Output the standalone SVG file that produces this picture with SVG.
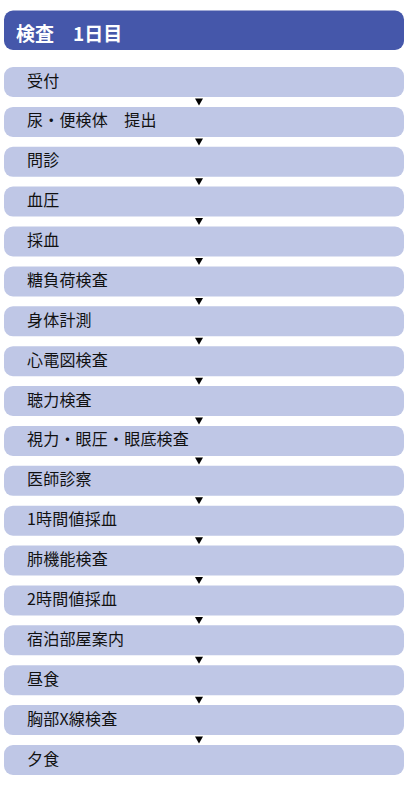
<svg xmlns="http://www.w3.org/2000/svg" width="410" height="785" viewBox="0 0 410 785">
<style>
.hdr{fill:#4557AA}
.box{fill:#BFC7E6}
.ht{font-family:"Noto Sans CJK JP","Noto Sans",sans-serif;font-size:19px;font-weight:bold;fill:#fff}
.t{font-family:"Noto Sans CJK JP","Noto Sans",sans-serif;font-size:16px;letter-spacing:0.2px;fill:#111}
.arr{fill:#000}
</style>
<rect width="410" height="785" fill="#fff"/>
<g id="header"><rect class="hdr" x="4" y="10.5" width="400" height="39.5" rx="9"/><text class="ht" x="16" y="40.5">検査　1日目</text></g>
<g id="n1"><rect class="box" x="4" y="67" width="400" height="30" rx="9"/><text class="t" x="27" y="86.5">受付</text></g>
<g id="n2"><rect class="box" x="4" y="106.9" width="400" height="30" rx="9"/><text class="t" x="27" y="126.4">尿・便検体　提出</text></g>
<g id="n3"><rect class="box" x="4" y="146.8" width="400" height="30" rx="9"/><text class="t" x="27" y="166.3">問診</text></g>
<g id="n4"><rect class="box" x="4" y="186.6" width="400" height="30" rx="9"/><text class="t" x="27" y="206.1">血圧</text></g>
<g id="n5"><rect class="box" x="4" y="226.5" width="400" height="30" rx="9"/><text class="t" x="27" y="246">採血</text></g>
<g id="n6"><rect class="box" x="4" y="266.4" width="400" height="30" rx="9"/><text class="t" x="27" y="285.9">糖負荷検査</text></g>
<g id="n7"><rect class="box" x="4" y="306.3" width="400" height="30" rx="9"/><text class="t" x="27" y="325.8">身体計測</text></g>
<g id="n8"><rect class="box" x="4" y="346.2" width="400" height="30" rx="9"/><text class="t" x="27" y="365.7">心電図検査</text></g>
<g id="n9"><rect class="box" x="4" y="386" width="400" height="30" rx="9"/><text class="t" x="27" y="405.5">聴力検査</text></g>
<g id="n10"><rect class="box" x="4" y="425.9" width="400" height="30" rx="9"/><text class="t" x="27" y="445.4">視力・眼圧・眼底検査</text></g>
<g id="n11"><rect class="box" x="4" y="465.8" width="400" height="30" rx="9"/><text class="t" x="27" y="485.3">医師診察</text></g>
<g id="n12"><rect class="box" x="4" y="505.7" width="400" height="30" rx="9"/><text class="t" x="27" y="525.2">1時間値採血</text></g>
<g id="n13"><rect class="box" x="4" y="545.6" width="400" height="30" rx="9"/><text class="t" x="27" y="565.1">肺機能検査</text></g>
<g id="n14"><rect class="box" x="4" y="585.4" width="400" height="30" rx="9"/><text class="t" x="27" y="604.9">2時間値採血</text></g>
<g id="n15"><rect class="box" x="4" y="625.3" width="400" height="30" rx="9"/><text class="t" x="27" y="644.8">宿泊部屋案内</text></g>
<g id="n16"><rect class="box" x="4" y="665.2" width="400" height="30" rx="9"/><text class="t" x="27" y="684.7">昼食</text></g>
<g id="n17"><rect class="box" x="4" y="705.1" width="400" height="30" rx="9"/><text class="t" x="27" y="724.6">胸部X線検査</text></g>
<g id="n18"><rect class="box" x="4" y="745" width="400" height="30" rx="9"/><text class="t" x="27" y="764.5">夕食</text></g>
<g id="connectors">
<path class="arr" d="M195,98.5h8l-4,7z"/>
<path class="arr" d="M195,138.4h8l-4,7z"/>
<path class="arr" d="M195,178.3h8l-4,7z"/>
<path class="arr" d="M195,218.1h8l-4,7z"/>
<path class="arr" d="M195,258h8l-4,7z"/>
<path class="arr" d="M195,297.9h8l-4,7z"/>
<path class="arr" d="M195,337.8h8l-4,7z"/>
<path class="arr" d="M195,377.7h8l-4,7z"/>
<path class="arr" d="M195,417.5h8l-4,7z"/>
<path class="arr" d="M195,457.4h8l-4,7z"/>
<path class="arr" d="M195,497.3h8l-4,7z"/>
<path class="arr" d="M195,537.2h8l-4,7z"/>
<path class="arr" d="M195,577.1h8l-4,7z"/>
<path class="arr" d="M195,616.9h8l-4,7z"/>
<path class="arr" d="M195,656.8h8l-4,7z"/>
<path class="arr" d="M195,696.7h8l-4,7z"/>
<path class="arr" d="M195,736.6h8l-4,7z"/>
</g>
</svg>
